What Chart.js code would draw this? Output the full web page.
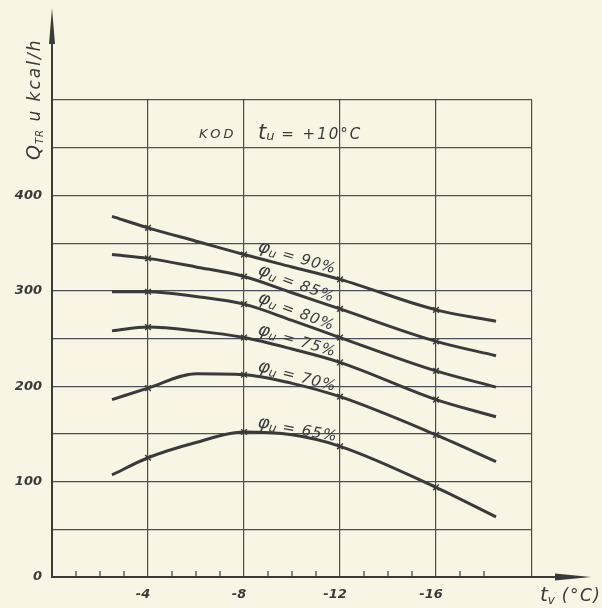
<!DOCTYPE html>
<html>
<head>
<meta charset="utf-8">
<script src="https://cdn.jsdelivr.net/npm/chart.js@4.4.0/dist/chart.umd.min.js"></script>
<style>
  html, body { margin: 0; padding: 0; background: #f8f4e5; }
</style>
</head>
<body>
<canvas id="chart" width="602" height="608"></canvas>
<script>
const temps = [-2.5, -4, -6, -8, -10, -12, -16, -18.5];
// Temperatures marked with a small x on the drawing
const markedTemps = [-4, -8, -12, -16];
const humidity = ['90%', '85%', '80%', '75%', '70%', '65%'];

// Q_TR in kcal/h, one list per relative humidity
const q90 = [378, 366, 352, 338, 325, 312, 280, 268];
const q85 = [338, 334, 325, 315, 298, 281, 247, 232];
const q80 = [299, 299, 294, 286, 269, 251, 216, 199];
const q75 = [258, 262, 258, 251, 239, 225, 186, 168];
const q70 = [186, 198, 213, 212, 203, 189, 149, 121];
const q65 = [107, 125, 141, 152, 149, 137, 94, 63];

const yTickLabels = [0, 100, 200, 300, 400];
const xTickLabels = [-4, -8, -12, -16];

const ink = '#3a3a3a';
const hand = 'DejaVu Sans';

// draw text pieces one after another, for subscripts
// piece = [text, size, dy, letterSpacing]
function drawParts(ctx, parts, x, y) {
    parts.forEach(p => {
        ctx.font = 'italic ' + p[1] + 'px "' + hand + '"';
        ctx.letterSpacing = (p[3] || 0) + 'px';
        ctx.fillText(p[0], x, y + (p[2] || 0));
        x += ctx.measureText(p[0]).width;
    });
    ctx.letterSpacing = '0px';
}

const paper = {
    id: 'paper',
    beforeDraw(chart) {
        const ctx = chart.ctx;
        ctx.save();
        ctx.fillStyle = '#f9f5e5';
        ctx.fillRect(0, 0, chart.width, chart.height);
        ctx.restore();
    }
};

const extras = {
    id: 'extras',
    afterDraw(chart) {
        const ctx = chart.ctx;
        const xs = chart.scales.x, ys = chart.scales.y;
        const area = chart.chartArea;
        ctx.save();
        ctx.strokeStyle = ink;
        ctx.fillStyle = ink;

        // small ticks every degree on the x axis
        ctx.lineWidth = 1.2;
        for (let t = -1; t > -19; t--) {
            if (t % 4 === 0) continue;
            const px = xs.getPixelForValue(t);
            ctx.beginPath();
            ctx.moveTo(px, area.bottom);
            ctx.lineTo(px, area.bottom - 6);
            ctx.stroke();
        }

        // axes run past the grid and end in arrows
        ctx.lineWidth = 2;
        ctx.beginPath();
        ctx.moveTo(area.left, area.bottom);
        ctx.lineTo(area.left, 40);
        ctx.moveTo(area.right, area.bottom);
        ctx.lineTo(556, area.bottom);
        ctx.stroke();
        ctx.beginPath();
        ctx.moveTo(area.left - 3, 44);
        ctx.lineTo(area.left, 8);
        ctx.lineTo(area.left + 3, 44);
        ctx.closePath();
        ctx.fill();
        ctx.beginPath();
        ctx.moveTo(555, area.bottom - 3.5);
        ctx.lineTo(591, area.bottom);
        ctx.lineTo(555, area.bottom + 3.5);
        ctx.closePath();
        ctx.fill();

        // axis titles
        ctx.textBaseline = 'alphabetic';
        ctx.save();
        ctx.translate(40, 160);
        ctx.rotate(-Math.PI / 2);
        drawParts(ctx, [['Q', 19, 0, 1], ['TR', 10, 3, 1], [' u kcal/h', 17, 0, 2]], 0, 0);
        ctx.restore();
        drawParts(ctx, [['t', 20], ['v', 12, 3], [' (°C)', 17, 0, 1.5]], 540, 601);

        // note at the top
        drawParts(ctx, [['KOD', 13, 0, 3]], 199, 138);
        drawParts(ctx, [['t', 21], ['u', 13, 1], [' = +10°C', 15, 0, 2]], 258, 139);

        // humidity label on each curve, between -8 and -12
        chart.data.datasets.forEach((d, i) => {
            const a = d.data[temps.indexOf(-8)], b = d.data[temps.indexOf(-12)];
            const x1 = xs.getPixelForValue(a.x), y1 = ys.getPixelForValue(a.y);
            const x2 = xs.getPixelForValue(b.x), y2 = ys.getPixelForValue(b.y);
            const ang = Math.atan2(y2 - y1, x2 - x1);
            ctx.save();
            ctx.translate(x1 + 13, y1 + Math.tan(ang) * 13 - 7);
            ctx.rotate(ang + 0.03);
            drawParts(ctx, [['φ', 18], ['u', 12, 2], [' = ' + humidity[i], 15, 0, 1]], 0, 0);
            ctx.restore();
        });
        ctx.restore();
    }
};

const series = [q90, q85, q80, q75, q70, q65];

const chart = new Chart(document.getElementById('chart').getContext('2d'), {
    type: 'line',
    data: {
        datasets: series.map((vals, i) => ({
            label: humidity[i],
            data: temps.map((t, j) => ({ x: t, y: vals[j] })),
            borderColor: ink,
            borderWidth: 3,
            cubicInterpolationMode: 'monotone',
            fill: false,
            pointStyle: 'crossRot',
            pointRadius: c => markedTemps.includes(temps[c.dataIndex]) ? 4 : 0,
            pointBorderColor: ink,
            pointBorderWidth: 1.5
        }))
    },
    options: {
        responsive: false,
        animation: false,
        layout: { padding: { top: 100, right: 70, left: 0, bottom: 0 } },
        plugins: { legend: { display: false }, tooltip: { enabled: false } },
        scales: {
            x: {
                type: 'linear',
                reverse: true,
                min: -20,
                max: 0,
                afterFit: s => { s.height = 31; },
                ticks: {
                    stepSize: 4,
                    padding: 10,
                    labelOffset: -5,
                    color: ink,
                    font: { family: hand, style: 'italic', weight: 'bold', size: 13 },
                    callback: v => xTickLabels.includes(v) ? String(v) : ''
                },
                grid: { color: '#4a4a4a', lineWidth: 1.2, drawTicks: false },
                border: { color: ink, width: 2 }
            },
            y: {
                min: 0,
                max: 500,
                afterFit: s => { s.width = 52; },
                ticks: {
                    stepSize: 50,
                    padding: 10,
                    color: ink,
                    font: { family: hand, style: 'italic', weight: 'bold', size: 13 },
                    callback: v => yTickLabels.includes(v) ? String(v) : ''
                },
                grid: { color: '#4e4e5e', lineWidth: 1.2, drawTicks: false },
                border: { color: ink, width: 2 }
            }
        }
    },
    plugins: [paper, extras]
});
</script>
</body>
</html>
